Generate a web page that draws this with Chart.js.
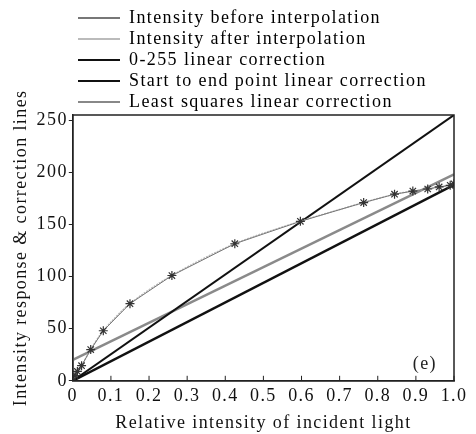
<!DOCTYPE html>
<html>
<head>
<meta charset="utf-8">
<script src="https://cdn.jsdelivr.net/npm/chart.js@4.4.1/dist/chart.umd.min.js"></script>
<style>
  html, body { margin: 0; padding: 0; background: #fff; }
  #box { width: 476px; height: 434px; }
</style>
</head>
<body>
<div id="box"><canvas id="gammaChart"></canvas></div>
<script>
// measured response curve (stars)
var beforeX = [0, 0.006, 0.012, 0.023, 0.047, 0.08, 0.15, 0.26, 0.425, 0.597, 0.763, 0.844, 0.892, 0.931, 0.961, 0.99, 1.0];
var beforeY = [0, 5, 9, 14.5, 30, 48, 74, 101, 131.5, 153, 171, 179, 182, 184, 186, 187.5, 189];
// correction lines (end points)
var fullX = [0, 1];
var fullY = [0, 255];
var startEndX = [0, 1];
var startEndY = [0, 188];
var lsqX = [0, 1];
var lsqY = [20, 198];

var xTicks = [0, 0.1, 0.2, 0.3, 0.4, 0.5, 0.6, 0.7, 0.8, 0.9, 1.0];
var yTicks = [0, 50, 100, 150, 200, 250];

var seriesNames = [
    "Intensity before interpolation",
    "Intensity after interpolation",
    "0-255 linear correction",
    "Start to end point linear correction",
    "Least squares linear correction"
];

function pts(xs, ys) {
    return xs.map(function (x, i) { return { x: x, y: ys[i] }; });
}

var serif = "'Liberation Serif', 'Times New Roman', serif";
var spacing = "1.4px";
Chart.defaults.font.family = serif;
Chart.defaults.color = "#111";

// the scanned figure has loosely spaced type
var spacingPlugin = {
    id: "spacing",
    beforeLayout: function (chart) { chart.ctx.letterSpacing = spacing; },
    beforeDraw: function (chart) { chart.ctx.letterSpacing = spacing; }
};

// frame, inner x tick marks and the (e) label
var framePlugin = {
    id: "frame",
    afterDatasetsDraw: function (chart) {
        var ctx = chart.ctx, a = chart.chartArea;
        var xs = chart.scales.x;
        ctx.save();
        ctx.strokeStyle = "#222";
        ctx.lineWidth = 1.5;
        ctx.strokeRect(a.left, a.top, a.right - a.left, a.bottom - a.top);
        ctx.lineWidth = 1;
        ctx.beginPath();
        xTicks.forEach(function (v) {
            var px = xs.getPixelForValue(v);
            ctx.moveTo(px, a.bottom);
            ctx.lineTo(px, a.bottom - 5);
        });
        ctx.stroke();
        ctx.fillStyle = "#222";
        ctx.font = "18px " + serif;
        ctx.textAlign = "right";
        ctx.textBaseline = "middle";
        ctx.fillText("(e)", a.right - 17, a.bottom - 17);
        ctx.restore();
    }
};

// push the stacked legend to the right and trim it
var legendPlugin = {
    id: "legendShift",
    beforeInit: function (chart) {
        var fit = chart.legend.fit;
        chart.legend.fit = function () {
            fit.bind(chart.legend)();
            this.height -= 6;
        };
    },
    afterLayout: function (chart) {
        chart.legend.left += 69;
        chart.legend.right += 69;
    }
};

var legendColors = ["#777", "#bbb", "#111", "#111", "#888"];

var ctx = document.getElementById("gammaChart");
var myChart = new Chart(ctx, {
    type: "line",
    data: {
        datasets: [
            {
                label: seriesNames[0],
                data: pts(beforeX, beforeY),
                borderColor: "#777",
                borderWidth: 1,
                pointStyle: "star",
                pointRadius: 4.5,
                pointBorderColor: "#333",
                pointBorderWidth: 1.2,
                tension: 0,
                order: 1
            },
            {
                label: seriesNames[1],
                data: pts(beforeX, beforeY),
                borderColor: "#bbb",
                borderWidth: 1.5,
                borderDash: [2, 1],
                pointRadius: 0,
                tension: 0.3,
                order: 2
            },
            {
                label: seriesNames[2],
                data: pts(fullX, fullY),
                borderColor: "#111",
                borderWidth: 2,
                pointRadius: 0,
                order: 3
            },
            {
                label: seriesNames[3],
                data: pts(startEndX, startEndY),
                borderColor: "#111",
                borderWidth: 2.5,
                pointRadius: 0,
                order: 4
            },
            {
                label: seriesNames[4],
                data: pts(lsqX, lsqY),
                borderColor: "#8a8a8a",
                borderWidth: 2.5,
                pointRadius: 0,
                order: 5
            }
        ]
    },
    options: {
        responsive: true,
        maintainAspectRatio: false,
        animation: false,
        layout: { padding: { top: 6, right: 22, left: 6, bottom: 0 } },
        plugins: {
            legend: {
                position: "top",
                align: "start",
                labels: {
                    boxWidth: 42,
                    boxHeight: 2,
                    padding: 3,
                    color: "#111",
                    font: { size: 18, family: serif },
                    generateLabels: function (chart) {
                        return seriesNames.map(function (n, i) {
                            return {
                                text: n,
                                fillStyle: legendColors[i],
                                strokeStyle: legendColors[i],
                                lineWidth: 0,
                                datasetIndex: i
                            };
                        });
                    }
                }
            },
            tooltip: { enabled: false }
        },
        scales: {
            x: {
                type: "linear",
                min: 0,
                max: 1,
                grid: { display: false, drawTicks: false },
                border: { display: true, color: "#222", width: 1.5 },
                afterBuildTicks: function (scale) {
                    scale.ticks = xTicks.map(function (v) { return { value: v }; });
                },
                ticks: {
                    padding: 5,
                    maxRotation: 0,
                    autoSkip: false,
                    font: { size: 18 },
                    color: "#111",
                    callback: function (v) { return v === 0 ? "0" : v.toFixed(1); }
                },
                title: {
                    display: true,
                    text: "Relative intensity of incident light",
                    font: { size: 18 },
                    color: "#111",
                    padding: { top: 0, bottom: 0 }
                }
            },
            y: {
                type: "linear",
                min: 0,
                max: 255,
                grid: { display: true, drawOnChartArea: false, drawTicks: true, tickLength: 4, color: "#222" },
                border: { display: true, color: "#222", width: 1.5 },
                afterBuildTicks: function (scale) {
                    scale.ticks = yTicks.map(function (v) { return { value: v }; });
                },
                ticks: {
                    padding: 1,
                    font: { size: 18 },
                    color: "#111"
                },
                title: {
                    display: true,
                    text: "Intensity response & correction lines",
                    font: { size: 18 },
                    color: "#111",
                    padding: { top: 4, bottom: 4 }
                }
            }
        }
    },
    plugins: [spacingPlugin, framePlugin, legendPlugin]
});
</script>
</body>
</html>
